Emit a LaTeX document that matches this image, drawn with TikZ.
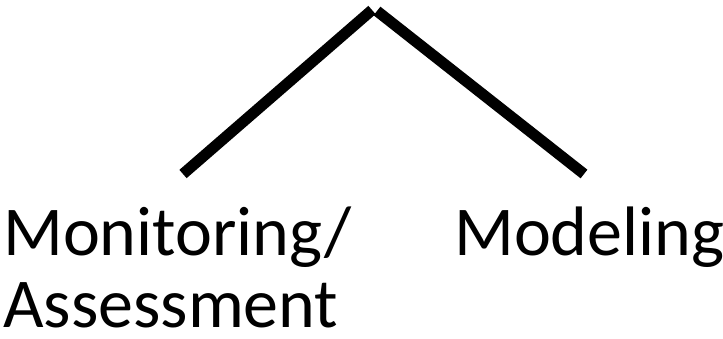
\documentclass[tikz,border=0pt]{standalone}
\usepackage{fontspec}
\setmainfont{Carlito}
\begin{document}
\begin{tikzpicture}[x=1pt,y=-1pt,
  branch/.style={line width=11pt,line cap=butt},
  lbl/.style={inner sep=0pt,anchor=base west,font=\fontsize{70}{84}\selectfont}]
\useasboundingbox (0,0) rectangle (723,338);
\coordinate (top1) at (372,10);
\coordinate (top2) at (377,11);
\coordinate (l) at (183,174);
\coordinate (r) at (584,174);
\draw[branch] (l) -- (top1);
\draw[branch] (top2) -- (r);
\node[lbl] (mon) at (3,255) {Monitoring/};
\node[lbl,text depth=0pt] (ass) at (3,327) {Assessment};
\node[lbl] (mod) at (454,255) {Modeling};
\end{tikzpicture}
\end{document}
